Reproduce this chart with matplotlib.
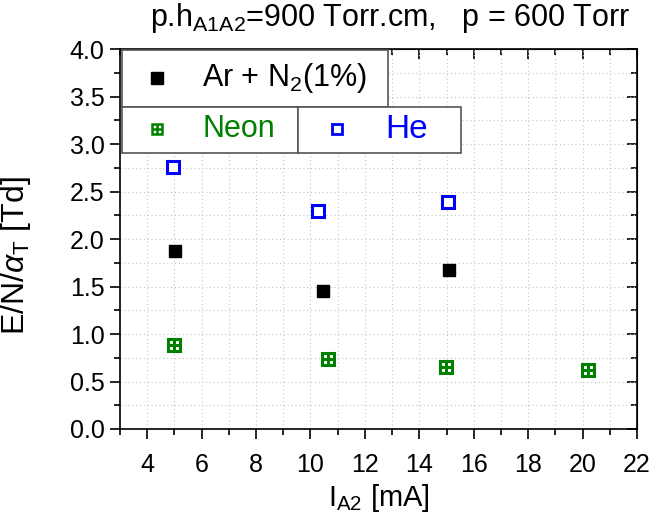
import matplotlib
matplotlib.use("Agg")
import matplotlib.pyplot as plt
from matplotlib.patches import Rectangle
from matplotlib.ticker import MultipleLocator, FormatStrFormatter

plt.rcParams['font.family'] = ['Liberation Sans', 'DejaVu Sans']
plt.rcParams['mathtext.fontset'] = 'custom'
plt.rcParams['mathtext.rm'] = 'Liberation Sans'
plt.rcParams['mathtext.it'] = 'Liberation Sans:italic'

# data
ar_x = [5.02, 10.46, 15.1]
ar_y = [1.87, 1.45, 1.67]
ne_x = [4.99, 10.65, 14.99, 20.2]
ne_y = [0.88, 0.74, 0.65, 0.62]
he_x = [4.95, 10.28, 15.06]
he_y = [2.76, 2.29, 2.39]

green = '#008000'
blue = '#0000ff'

fig = plt.figure(figsize=(6.54, 5.16), dpi=100)
ax = fig.add_axes([120/654, 1-429/516, 517/654, 380/516])

ax.set_xlim(3, 22)
ax.set_ylim(0, 4)
ax.xaxis.set_major_locator(MultipleLocator(2))
ax.xaxis.set_minor_locator(MultipleLocator(1))
ax.yaxis.set_major_locator(MultipleLocator(0.5))
ax.yaxis.set_minor_locator(MultipleLocator(0.25))
ax.yaxis.set_major_formatter(FormatStrFormatter('%.1f'))

ax.grid(True, which='both', color='#c4c4c4', linestyle=(0, (1, 2.5)), linewidth=0.8)
ax.set_axisbelow(True)

ax.tick_params(which='both', direction='out', top=False, right=False, labelsize=18, width=1.2)
ax.tick_params(which='major', length=7)
ax.tick_params(which='minor', length=4)
ax.tick_params(axis='x', which='major', pad=10)
ax.tick_params(axis='y', which='major', pad=4)

# top and right: ticks pointing in
ax2 = ax.secondary_xaxis('top')
ax2.xaxis.set_major_locator(MultipleLocator(2))
ax2.xaxis.set_minor_locator(MultipleLocator(1))
ax2.tick_params(which='both', direction='in', labeltop=False, width=1.2)
ax2.tick_params(which='major', length=7)
ax2.tick_params(which='minor', length=4)
ay2 = ax.secondary_yaxis('right')
ay2.yaxis.set_major_locator(MultipleLocator(0.5))
ay2.yaxis.set_minor_locator(MultipleLocator(0.25))
ay2.tick_params(which='both', direction='in', labelright=False, width=1.2)
ay2.tick_params(which='major', length=7)
ay2.tick_params(which='minor', length=4)
for s in ax.spines.values():
    s.set_linewidth(1.2)

ax.plot(ar_x, ar_y, 's', color='black', markersize=8.5, linestyle='none', zorder=3)
ax.plot(ne_x, ne_y, 's', mfc='white', mec=green, mew=2.2, markersize=8, linestyle='none', zorder=3)
ax.plot(ne_x, ne_y, '+', color=green, mew=2.2, markersize=8, linestyle='none', zorder=4)
ax.plot(he_x, he_y, 's', mfc='white', mec=blue, mew=2.2, markersize=8.5, linestyle='none', zorder=3)

ax.set_xlabel(r'I$_{\mathregular{A2}}$ [mA]', fontsize=21, labelpad=4)
ax.set_ylabel(r'E/N/$\alpha_{\mathregular{T}}$ [Td]', fontsize=23)
ax.yaxis.set_label_coords(-87/517, 0.455)

fig.text(390/654, 1-26/516, r'p.h$_{\mathregular{A1A2}}$=900 Torr.cm,   p = 600 Torr',
         fontsize=22, ha='center', va='baseline')

# legend boxes
tr = ax.transAxes
ax.add_patch(Rectangle((0.004, 0.847), 0.514, 0.150, transform=tr,
                       facecolor='white', edgecolor='#555555', lw=1.2, zorder=5))
ax.add_patch(Rectangle((0.004, 0.726), 0.340, 0.121, transform=tr,
                       facecolor='white', edgecolor='#555555', lw=1.2, zorder=5))
ax.add_patch(Rectangle((0.344, 0.726), 0.316, 0.121, transform=tr,
                       facecolor='white', edgecolor='#555555', lw=1.2, zorder=5))

ax.plot([0.072], [0.924], 's', color='black', markersize=8, transform=tr, zorder=6)
ax.text(0.159, 0.924, r'Ar + N$_{\mathregular{2}}$(1%)', fontsize=22, transform=tr,
        va='center', ha='left', zorder=6)
ax.plot([0.072], [0.789], 's', mfc='white', mec=green, mew=1.8, markersize=6.5, transform=tr, zorder=6)
ax.plot([0.072], [0.789], '+', color=green, mew=1.8, markersize=6.5, transform=tr, zorder=7)
ax.text(0.16, 0.789, 'Neon', fontsize=22, color=green, transform=tr, va='center', ha='left', zorder=6)
ax.plot([0.42], [0.789], 's', mfc='white', mec=blue, mew=2, markersize=7, transform=tr, zorder=6)
ax.text(0.514, 0.789, 'He', fontsize=24, color=blue, transform=tr, va='center', ha='left', zorder=6)

fig.savefig('out.png', dpi=100)
